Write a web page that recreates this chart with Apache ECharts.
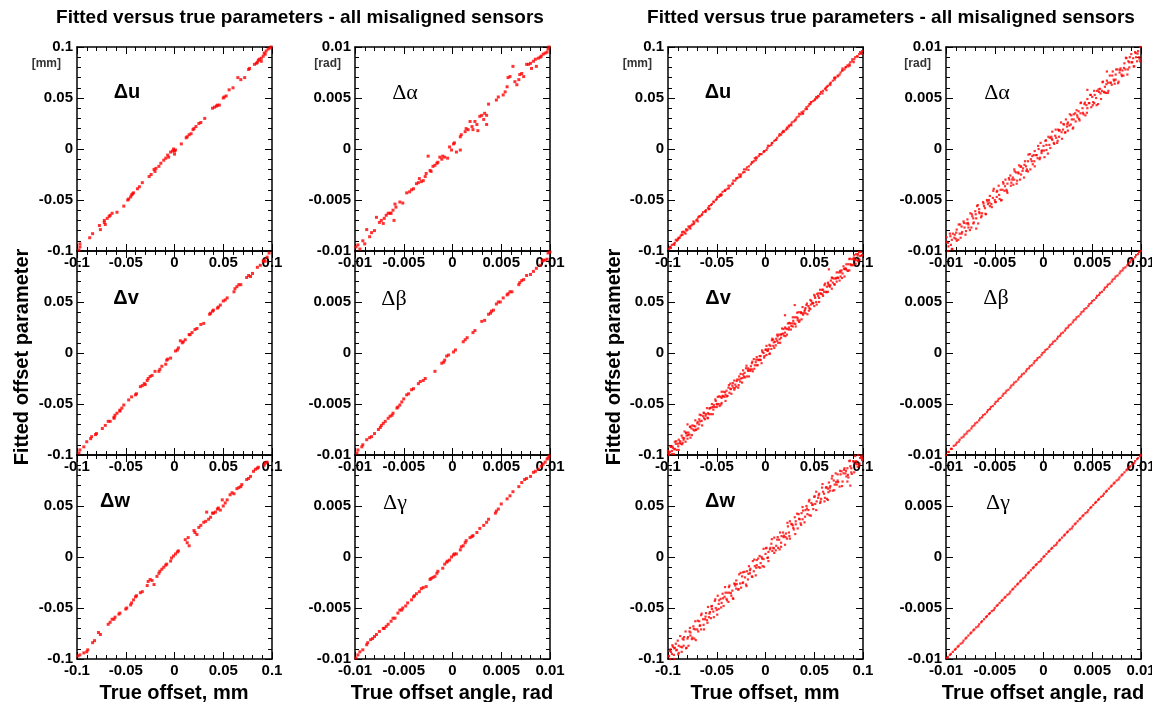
<!DOCTYPE html>
<html><head><meta charset="utf-8">
<script src="https://cdn.jsdelivr.net/npm/echarts@6/dist/echarts.min.js"></script>
<style>html,body{margin:0;padding:0;background:#fff}#c{width:1152px;height:702px}</style>
</head><body><div id="c"></div>
<script>
// ---------- data: [true offset, fitted offset] ----------
const duL=[[-.097,-.093],[-.097,-.096],[-.098,-.099],[-.087,-.087],[-.084,-.083],[-.077,-.075],[-.076,-.079],[-.072,-.070],[-.072,-.072],[-.071,-.074],[-.069,-.068],[-.067,-.066],[-.066,-.065],[-.064,-.063],[-.059,-.062],[-.052,-.056],[-.048,-.050],[-.047,-.049],[-.045,-.047],[-.044,-.045],[-.043,-.044],[-.042,-.043],[-.038,-.039],[-.036,-.037],[-.033,-.033],[-.026,-.027],[-.024,-.025],[-.021,-.020],[-.020,-.022],[-.019,-.019],[-.016,-.017],[-.014,-.014],[-.011,-.011],[-.009,-.009],[-.007,-.006],[-.006,-.008],[-.004,-.003],[-.002,-.002],[-.001,.000],[.000,-.005],[.000,-.002],[.001,-.001],[.007,.005],[.012,.011],[.013,.012],[.015,.014],[.017,.015],[.019,.019],[.020,.020],[.022,.022],[.025,.025],[.027,.026],[.031,.030],[.039,.040],[.041,.041],[.043,.042],[.044,.043],[.046,.043],[.050,.050],[.051,.051],[.053,.052],[.056,.058],[.060,.060],[.065,.070],[.068,.068],[.072,.070],[.076,.078],[.077,.079],[.082,.083],[.084,.084],[.086,.087],[.087,.088],[.089,.089],[.091,.091],[.092,.094],[.094,.096],[.096,.098],[.098,.099],[.099,.100],[.089,.086],[.093,.093],[.085,.085]];
const daL=[[-.0099,-.0096],[-.0097,-.0094],[-.0095,-.0098],[-.0092,-.0090],[-.0090,-.0093],[-.0088,-.0079],[-.0085,-.0086],[-.0083,-.0082],[-.0080,-.0080],[-.0078,-.0067],[-.0075,-.0072],[-.0073,-.0070],[-.0071,-.0073],[-.0070,-.0068],[-.0068,-.0065],[-.0066,-.0063],[-.0064,-.0063],[-.0063,-.0063],[-.0061,-.0060],[-.0060,-.0070],[-.0059,-.0054],[-.0058,-.0057],[-.0054,-.0052],[-.0051,-.0053],[-.0047,-.0043],[-.0044,-.0042],[-.0042,-.0040],[-.0040,-.0039],[-.0037,-.0034],[-.0035,-.0033],[-.0034,-.0029],[-.0032,-.0032],[-.0030,-.0031],[-.0028,-.0027],[-.0027,-.0024],[-.0025,-.0007],[-.0023,-.0021],[-.0022,-.0022],[-.0020,-.0017],[-.0018,-.0016],[-.0016,-.0014],[-.0015,-.0013],[-.0013,-.0008],[-.0011,-.0010],[-.0010,-.0007],[-.0008,-.0008],[-.0005,-.0009],[-.0003,.0002],[-.0001,-.0001],[.0001,.0005],[.0002,.0006],[.0004,-.0003],[.0008,.0012],[.0009,.0014],[.0008,-.0001],[.0013,.0017],[.0014,.0020],[.0016,.0019],[.0018,.0027],[.0020,.0022],[.0021,.0019],[.0023,.0027],[.0025,.0024],[.0026,.0018],[.0028,.0032],[.0030,.0033],[.0032,.0029],[.0033,.0035],[.0035,.0024],[.0035,.0033],[.0037,.0044],[.0045,.0048],[.0047,.0051],[.0052,.0053],[.0054,.0056],[.0056,.0061],[.0057,.0070],[.0059,.0071],[.0062,.0081],[.0064,.0066],[.0066,.0063],[.0068,.0068],[.0069,.0073],[.0071,.0074],[.0073,.0071],[.0076,.0083],[.0078,.0083],[.0080,.0084],[.0081,.0079],[.0083,.0086],[.0085,.0088],[.0086,.0081],[.0088,.0089],[.0090,.0090],[.0091,.0091],[.0093,.0093],[.0095,.0094],[.0097,.0095],[.0098,.0098],[.0099,.0100]];
const dvL=[[-.098,-.098],[-.097,-.095],[-.093,-.092],[-.090,-.087],[-.086,-.084],[-.085,-.082],[-.081,-.080],[-.080,-.079],[-.074,-.074],[-.071,-.071],[-.068,-.067],[-.066,-.067],[-.062,-.064],[-.061,-.061],[-.062,-.063],[-.059,-.059],[-.056,-.056],[-.056,-.057],[-.054,-.054],[-.052,-.051],[-.047,-.046],[-.044,-.043],[-.040,-.041],[-.039,-.040],[-.035,-.033],[-.033,-.032],[-.031,-.030],[-.030,-.031],[-.028,-.027],[-.027,-.025],[-.025,-.023],[-.023,-.022],[-.020,-.018],[-.016,-.018],[-.015,-.016],[-.013,-.013],[-.009,-.011],[-.008,-.007],[-.007,-.006],[-.004,-.005],[.001,.002],[.003,.003],[.004,.005],[.006,.012],[.008,.010],[.009,.011],[.011,.013],[.015,.018],[.016,.018],[.018,.020],[.021,.023],[.023,.024],[.027,.028],[.030,.029],[.036,.038],[.037,.039],[.039,.041],[.040,.042],[.044,.044],[.045,.045],[.047,.047],[.050,.051],[.052,.052],[.054,.054],[.061,.060],[.062,.063],[.064,.065],[.066,.067],[.068,.067],[.074,.074],[.076,.076],[.078,.075],[.080,.078],[.085,.084],[.088,.086],[.091,.090],[.092,.091],[.093,.090],[.095,.094],[.097,.098]];
const dbL=[[-.0098,-.0098],[-.0097,-.0095],[-.0093,-.0092],[-.0092,-.0090],[-.0088,-.0085],[-.0085,-.0083],[-.0083,-.0082],[-.0080,-.0079],[-.0076,-.0075],[-.0074,-.0073],[-.0073,-.0071],[-.0071,-.0069],[-.0069,-.0067],[-.0066,-.0064],[-.0064,-.0062],[-.0062,-.0061],[-.0061,-.0059],[-.0057,-.0054],[-.0056,-.0053],[-.0054,-.0051],[-.0052,-.0048],[-.0050,-.0045],[-.0047,-.0041],[-.0045,-.0040],[-.0042,-.0036],[-.0040,-.0035],[-.0035,-.0030],[-.0033,-.0028],[-.0030,-.0027],[-.0028,-.0025],[-.0018,-.0018],[-.0011,-.0010],[-.0009,-.0009],[-.0008,-.0007],[-.0006,-.0003],[-.0004,-.0002],[.0001,.0001],[.0003,.0003],[.0011,.0011],[.0013,.0013],[.0015,.0015],[.0021,.0020],[.0023,.0022],[.0030,.0031],[.0033,.0032],[.0037,.0038],[.0039,.0039],[.0040,.0041],[.0042,.0042],[.0045,.0048],[.0047,.0050],[.0049,.0050],[.0052,.0054],[.0056,.0057],[.0057,.0058],[.0059,.0060],[.0061,.0060],[.0068,.0067],[.0069,.0069],[.0071,.0071],[.0073,.0072],[.0076,.0076],[.0080,.0077],[.0083,.0080],[.0086,.0083],[.0090,.0086],[.0092,.0090],[.0093,.0091],[.0095,.0091],[.0097,.0092],[.0098,.0098],[.0100,.0099]];
const dwL=[[-.099,-.097],[-.097,-.096],[-.093,-.094],[-.090,-.093],[-.089,-.091],[-.084,-.084],[-.082,-.082],[-.078,-.074],[-.076,-.076],[-.068,-.066],[-.066,-.064],[-.064,-.061],[-.062,-.061],[-.061,-.059],[-.057,-.056],[-.056,-.055],[-.050,-.051],[-.049,-.050],[-.045,-.047],[-.044,-.045],[-.042,-.042],[-.040,-.039],[-.039,-.038],[-.035,-.035],[-.033,-.034],[-.028,-.028],[-.027,-.024],[-.025,-.022],[-.023,-.023],[-.021,-.027],[-.018,-.019],[-.016,-.016],[-.015,-.014],[-.013,-.012],[-.011,-.010],[-.009,-.008],[-.008,-.007],[-.004,-.004],[-.003,-.001],[-.001,.001],[.001,.003],[.003,.005],[.004,.006],[.011,.017],[.013,.014],[.014,.019],[.015,.011],[.020,.026],[.021,.024],[.023,.022],[.025,.029],[.027,.031],[.030,.034],[.032,.035],[.033,.044],[.035,.037],[.037,.039],[.039,.043],[.040,.043],[.042,.044],[.044,.047],[.045,.048],[.047,.046],[.049,.056],[.050,.050],[.052,.053],[.054,.056],[.057,.061],[.059,.063],[.061,.062],[.064,.067],[.066,.068],[.068,.069],[.069,.071],[.074,.076],[.076,.077],[.078,.079],[.081,.084],[.083,.086],[.085,.087],[.086,.088],[.092,.090],[.093,.092],[.095,.093]];
const dgL=[[-.0099,-.0099],[-.0097,-.0096],[-.0095,-.0093],[-.0092,-.0091],[-.0088,-.0086],[-.0087,-.0084],[-.0084,-.0081],[-.0082,-.0080],[-.0080,-.0078],[-.0078,-.0076],[-.0075,-.0073],[-.0071,-.0070],[-.0070,-.0070],[-.0068,-.0068],[-.0066,-.0066],[-.0063,-.0063],[-.0061,-.0060],[-.0059,-.0060],[-.0056,-.0055],[-.0054,-.0052],[-.0052,-.0052],[-.0051,-.0050],[-.0048,-.0048],[-.0046,-.0045],[-.0042,-.0042],[-.0040,-.0039],[-.0039,-.0038],[-.0037,-.0036],[-.0034,-.0034],[-.0032,-.0031],[-.0030,-.0030],[-.0027,-.0029],[-.0023,-.0022],[-.0022,-.0021],[-.0020,-.0020],[-.0018,-.0019],[-.0016,-.0016],[-.0015,-.0014],[-.0010,-.0011],[-.0008,-.0007],[-.0006,-.0005],[-.0005,-.0004],[-.0003,-.0003],[-.0001,.0000],[.0001,.0002],[.0002,.0003],[.0004,.0003],[.0008,.0007],[.0009,.0010],[.0011,.0011],[.0013,.0014],[.0014,.0016],[.0018,.0019],[.0020,.0020],[.0021,.0021],[.0025,.0024],[.0028,.0028],[.0032,.0031],[.0035,.0034],[.0037,.0037],[.0044,.0043],[.0045,.0045],[.0047,.0047],[.0050,.0052],[.0056,.0057],[.0059,.0060],[.0062,.0064],[.0068,.0069],[.0071,.0073],[.0074,.0076],[.0076,.0077],[.0080,.0079],[.0083,.0083],[.0085,.0084],[.0088,.0086],[.0091,.0089],[.0093,.0091],[.0095,.0093],[.0097,.0096],[.0098,.0097],[.0099,.0099]];
const duR=[[-.099,-.098],[-.098,-.096],[-.097,-.097],[-.096,-.094],[-.094,-.093],[-.093,-.092],[-.092,-.089],[-.090,-.089],[-.089,-.087],[-.088,-.087],[-.086,-.084],[-.085,-.084],[-.084,-.081],[-.083,-.082],[-.081,-.080],[-.080,-.079],[-.079,-.076],[-.078,-.077],[-.076,-.075],[-.075,-.074],[-.074,-.071],[-.073,-.072],[-.071,-.070],[-.070,-.069],[-.068,-.066],[-.067,-.066],[-.065,-.064],[-.064,-.062],[-.062,-.061],[-.061,-.060],[-.059,-.058],[-.058,-.056],[-.056,-.055],[-.055,-.054],[-.053,-.052],[-.051,-.050],[-.050,-.049],[-.048,-.047],[-.047,-.045],[-.045,-.045],[-.044,-.042],[-.042,-.041],[-.041,-.040],[-.039,-.039],[-.038,-.036],[-.036,-.036],[-.034,-.034],[-.033,-.031],[-.031,-.031],[-.030,-.029],[-.028,-.028],[-.027,-.025],[-.025,-.025],[-.023,-.023],[-.022,-.020],[-.020,-.020],[-.019,-.018],[-.017,-.017],[-.015,-.015],[-.014,-.013],[-.012,-.012],[-.011,-.009],[-.009,-.009],[-.007,-.007],[-.006,-.005],[-.004,-.005],[-.002,-.003],[-.001,-.002],[.001,-.001],[.002,.001],[.004,.003],[.006,.004],[.007,.006],[.009,.008],[.011,.009],[.012,.011],[.014,.013],[.016,.014],[.017,.016],[.019,.017],[.021,.019],[.022,.021],[.024,.023],[.026,.024],[.027,.026],[.029,.027],[.031,.029],[.032,.031],[.034,.032],[.036,.034],[.037,.036],[.039,.037],[.041,.039],[.042,.041],[.044,.042],[.046,.044],[.047,.046],[.049,.047],[.051,.049],[.052,.051],[.054,.052],[.056,.054],[.057,.056],[.059,.057],[.061,.059],[.062,.060],[.064,.062],[.066,.064],[.067,.065],[.069,.067],[.071,.068],[.072,.070],[.074,.072],[.076,.073],[.077,.075],[.079,.077],[.081,.078],[.082,.080],[.084,.082],[.086,.083],[.087,.085],[.089,.086],[.091,.088],[.092,.090],[.094,.091],[.096,.093],[.097,.095],[.099,.096],[.098,.094],[.089,.088],[.085,.081],[.079,.079],[.071,.070],[.063,.061],[.053,.050],[.045,.044],[.038,.035],[.024,.022],[.018,.017],[-.010,-.011],[-.026,-.027],[-.046,-.046],[-.058,-.059],[-.069,-.067],[-.077,-.078],[-.082,-.083],[-.087,-.085],[-.091,-.090]];
const duR2=[[-.0975,-.0961],[-.0935,-.0940],[-.0895,-.0878],[-.0855,-.0814],[-.0815,-.0788],[-.0775,-.0759],[-.0735,-.0735],[-.0695,-.0709],[-.0655,-.0648],[-.0615,-.0617],[-.0575,-.0585],[-.0535,-.0516],[-.0495,-.0470],[-.0455,-.0444],[-.0415,-.0410],[-.0375,-.0384],[-.0335,-.0338],[-.0295,-.0286],[-.0255,-.0270],[-.0215,-.0226],[-.0175,-.0205],[-.0135,-.0133],[-.0095,-.0082],[-.0055,-.0051],[-.0015,-.0022],[.0025,.0032],[.0065,.0058],[.0105,.0090],[.0145,.0146],[.0185,.0177],[.0225,.0200],[.0265,.0232],[.0305,.0281],[.0345,.0345],[.0385,.0346],[.0425,.0392],[.0465,.0459],[.0505,.0480],[.0545,.0516],[.0585,.0545],[.0625,.0576],[.0665,.0628],[.0705,.0696],[.0745,.0713],[.0785,.0769],[.0825,.0803],[.0865,.0819],[.0905,.0851],[.0945,.0905],[.0985,.0933]];
const daR=[[-.0099,-.0091],[-.0098,-.0100],[-.0098,-.0092],[-.0096,-.0083],[-.0095,-.0094],[-.0094,-.0089],[-.0094,-.0098],[-.0093,-.0083],[-.0091,-.0084],[-.0090,-.0088],[-.0089,-.0079],[-.0089,-.0090],[-.0087,-.0074],[-.0086,-.0083],[-.0085,-.0087],[-.0084,-.0076],[-.0084,-.0083],[-.0082,-.0071],[-.0081,-.0077],[-.0080,-.0084],
[-.0079,-.0073],[-.0078,-.0069],[-.0077,-.0077],[-.0077,-.0074],[-.0075,-.0063],[-.0074,-.0077],[-.0073,-.0066],[-.0072,-.0068],[-.0072,-.0073],[-.0070,-.0061],[-.0069,-.0068],[-.0068,-.0056],[-.0067,-.0073],[-.0066,-.0062],[-.0066,-.0059],[-.0064,-.0067],[-.0063,-.0063],[-.0062,-.0052],[-.0061,-.0056],[-.0060,-.0058],
[-.0059,-.0064],[-.0058,-.0050],[-.0057,-.0054],[-.0056,-.0050],[-.0055,-.0056],[-.0055,-.0046],[-.0053,-.0057],[-.0052,-.0048],[-.0051,-.0039],[-.0050,-.0050],[-.0049,-.0052],[-.0048,-.0042],[-.0048,-.0047],[-.0046,-.0036],[-.0045,-.0049],[-.0044,-.0040],[-.0043,-.0050],[-.0042,-.0040],[-.0041,-.0034],[-.0040,-.0041],
[-.0039,-.0030],[-.0038,-.0040],[-.0037,-.0034],[-.0037,-.0043],[-.0035,-.0030],[-.0034,-.0026],[-.0033,-.0033],[-.0032,-.0030],[-.0031,-.0035],[-.0030,-.0020],[-.0030,-.0030],[-.0028,-.0023],[-.0027,-.0031],[-.0026,-.0023],[-.0025,-.0016],[-.0024,-.0030],[-.0023,-.0025],[-.0023,-.0017],[-.0021,-.0019],[-.0020,-.0028],
[-.0019,-.0012],[-.0018,-.0017],[-.0017,-.0020],[-.0016,-.0012],[-.0016,-.0022],[-.0014,-.0005],[-.0013,-.0010],[-.0012,-.0012],[-.0011,-.0015],[-.0010,-.0006],[-.0009,-.0017],[-.0009,-.0002],[-.0007,-.0006],[-.0006,-.0009],[-.0005,.0000],[-.0004,-.0010],[-.0003,.0006],[-.0002,-.0002],[-.0002,-.0004],[.0000,.0003],
[.0001,-.0008],[.0002,.0008],[.0003,-.0001],[.0003,.0004],[.0005,.0012],[.0006,.0004],[.0007,.0001],[.0008,.0012],[.0009,.0009],[.0009,.0017],[.0011,.0005],[.0012,.0013],[.0013,.0011],[.0014,.0006],[.0015,.0019],[.0016,.0018],[.0016,.0012],[.0018,.0026],[.0019,.0010],[.0020,.0019],
[.0021,.0024],[.0022,.0016],[.0023,.0029],[.0024,.0022],[.0025,.0026],[.0025,.0018],[.0027,.0034],[.0028,.0024],[.0029,.0029],[.0030,.0020],[.0031,.0034],[.0031,.0029],[.0033,.0027],[.0034,.0038],[.0035,.0031],[.0036,.0037],[.0037,.0028],[.0038,.0045],[.0038,.0035],[.0040,.0040],
[.0041,.0034],[.0042,.0044],[.0043,.0033],[.0044,.0043],[.0045,.0049],[.0045,.0040],[.0047,.0045],[.0048,.0053],[.0049,.0041],[.0050,.0051],[.0051,.0046],[.0052,.0057],[.0052,.0045],[.0054,.0050],[.0055,.0057],[.0056,.0044],[.0057,.0056],[.0058,.0059],[.0059,.0049],[.0060,.0057],
[.0061,.0066],[.0062,.0056],[.0063,.0061],[.0064,.0055],[.0065,.0067],[.0066,.0065],[.0066,.0055],[.0068,.0072],[.0069,.0065],[.0070,.0063],[.0071,.0076],[.0072,.0068],[.0073,.0064],[.0074,.0073],[.0074,.0068],[.0076,.0078],[.0077,.0066],[.0078,.0075],[.0079,.0079],[.0080,.0073],
[.0081,.0077],[.0082,.0072],[.0083,.0084],[.0084,.0078],[.0085,.0089],[.0086,.0073],[.0087,.0086],[.0088,.0085],[.0088,.0080],[.0090,.0093],[.0091,.0085],[.0092,.0089],[.0093,.0081],[.0094,.0095],[.0095,.0090],[.0096,.0086],[.0097,.0096],[.0098,.0090],[.0099,.0100],[.0099,.0086],
[.0045,.0058],[.0065,.0076],[-.0069,-.0078]];
const daR2=[[-.00995,-.00865],[-.00975,-.00955],[-.00955,-.00855],[-.00935,-.0098],[-.00915,-.0087],[-.00895,-.0082],[-.00875,-.0089],[-.00855,-.0074],[-.00835,-.00815],[-.00815,-.00725],[-.00795,-.00805],[-.00775,-.00725],[-.00755,-.00795],[-.00735,-.0064],[-.00715,-.0072],[-.00695,-.0064],[-.00675,-.0055],[-.00655,-.0063],[-.00635,-.00655],[-.00615,-.00535],[-.00595,-.00635],[-.00575,-.00515],[-.00555,-.00525],[-.00535,-.0054],[-.00515,-.0041],[-.00495,-.0052],[-.00475,-.0041],[-.00455,-.0045],[-.00435,-.00505],[-.00415,-.00325],[-.00395,-.00365],[-.00375,-.00415],[-.00355,-.00285],[-.00335,-.0036],[-.00315,-.0028],[-.00295,-.0022],[-.00275,-.0034],[-.00255,-.0024],[-.00235,-.00175],[-.00215,-.00215],[-.00195,-.00155],[-.00175,-.00215],[-.00155,-.00055],[-.00135,-.0020],[-.00115,-.0007],[-.00095,-.0012],[-.00075,-.0006],[-.00055,.0003],[-.00035,-.00085],[-.00015,-.00015],[.00005,-.00015],[.00025,.00085],[.00045,-.00045],[.00065,.0011],[.00085,.0010],[.00105,.0006],[.00125,.0019],[.00145,.0008],[.00165,.00185],[.00185,.00165],[.00205,.00245],[.00225,.00165],[.00245,.00245],[.00265,.0023],[.00285,.0033],[.00305,.0021],[.00325,.0035],[.00345,.0033],[.00365,.00295],[.00385,.00455],[.00405,.00355],[.00425,.00455],[.00445,.00355],[.00465,.0045],[.00485,.0053],[.00505,.0043],[.00525,.0053],[.00545,.0043],[.00565,.00585],[.00585,.00545],[.00605,.00655],[.00625,.00555],[.00645,.00635],[.00665,.0057],[.00685,.0065],[.00705,.0072],[.00725,.0067],[.00745,.0078],[.00765,.00645],[.00785,.00775],[.00805,.00715],[.00825,.00795],[.00845,.00895],[.00865,.0078],[.00885,.0090],[.00905,.0085],[.00925,.0081],[.00945,.0094],[.00965,.00935],[.00985,.00885]];
const dvR=[[-.100,-.096],[-.099,-.100],[-.099,-.099],[-.098,-.097],[-.097,-.092],[-.096,-.099],[-.096,-.096],[-.095,-.093],[-.094,-.099],[-.093,-.087],[-.093,-.094],[-.092,-.089],[-.091,-.095],[-.090,-.089],[-.089,-.095],[-.089,-.085],[-.088,-.088],[-.087,-.089],[-.086,-.081],[-.085,-.088],[-.085,-.083],[-.084,-.085],[-.083,-.077],[-.082,-.087],[-.081,-.081],[-.081,-.078],[-.080,-.084],[-.079,-.078],[-.078,-.080],[-.077,-.072],[-.077,-.083],[-.076,-.074],[-.075,-.071],[-.074,-.075],[-.073,-.076],[-.072,-.072],[-.072,-.066],[-.071,-.075],[-.070,-.069],[-.069,-.074],[-.068,-.065],[-.068,-.070],[-.067,-.067],[-.066,-.061],[-.065,-.071],[-.064,-.062],[-.063,-.064],[-.063,-.059],[-.062,-.065],[-.061,-.060],[-.060,-.054],[-.059,-.064],[-.059,-.059],[-.058,-.060],[-.057,-.054],[-.056,-.060],[-.055,-.050],[-.054,-.053],[-.054,-.060],[-.053,-.051],[-.052,-.053],[-.051,-.047],[-.050,-.053],[-.050,-.050],[-.049,-.043],[-.048,-.050],[-.047,-.052],[-.046,-.043],[-.045,-.044],[-.045,-.049],[-.044,-.042],[-.043,-.038],[-.042,-.043],[-.041,-.047],[-.041,-.041],[-.040,-.037],[-.039,-.042],[-.038,-.034],[-.037,-.039],[-.036,-.035],[-.036,-.030],[-.035,-.040],[-.034,-.032],[-.033,-.034],[-.032,-.036],[-.032,-.027],[-.031,-.031],[-.030,-.033],[-.029,-.026],[-.028,-.034],[-.027,-.026],[-.027,-.023],[-.026,-.028],[-.025,-.025],[-.024,-.029],[-.023,-.017],[-.023,-.021],[-.022,-.023],[-.021,-.024],[-.020,-.015],[-.019,-.023],[-.018,-.017],[-.018,-.015],[-.017,-.023],[-.016,-.016],[-.015,-.013],[-.014,-.016],[-.014,-.010],[-.013,-.018],[-.012,-.006],[-.011,-.012],[-.010,-.009],[-.009,-.012],[-.009,-.004],[-.008,-.012],[-.007,-.007],[-.006,-.003],[-.005,-.007],[-.005,-.003],[-.004,-.010],[-.003,.001],[-.002,.000],[-.001,-.003],[-.080,-.070],[-.045,-.038],
[.000,.003],[.001,-.002],[.001,.007],[.002,.002],[.003,.004],[.004,-.001],[.004,.008],[.005,.007],[.006,.004],[.007,.014],[.008,.007],[.008,.013],[.009,.005],[.010,.011],[.011,.014],[.012,.012],[.012,.018],[.013,.010],[.014,.018],[.015,.010],[.016,.018],[.016,.015],[.017,.024],[.018,.019],[.019,.017],[.020,.025],[.020,.020],[.021,.024],[.022,.018],[.023,.029],[.024,.023],[.024,.025],[.025,.029],[.026,.023],[.027,.029],[.028,.035],[.028,.026],[.029,.029],[.030,.035],[.031,.026],[.032,.035],[.033,.034],[.033,.032],[.034,.040],[.035,.032],[.036,.040],[.037,.039],[.037,.033],[.038,.045],[.039,.039],[.040,.041],[.041,.039],[.041,.044],[.042,.047],[.043,.038],[.044,.046],[.045,.044],[.046,.052],[.046,.043],[.047,.051],[.048,.049],[.049,.049],[.050,.057],[.050,.046],[.051,.054],[.052,.050],[.053,.058],[.054,.056],[.055,.054],[.055,.050],[.056,.062],[.057,.058],[.058,.062],[.059,.056],[.059,.062],[.060,.060],[.061,.068],[.062,.060],[.063,.065],[.064,.060],[.064,.069],[.065,.066],[.066,.065],[.067,.071],[.068,.063],[.068,.074],[.069,.069],[.070,.073],[.071,.067],[.072,.073],[.073,.079],[.073,.070],[.074,.074],[.075,.079],[.076,.071],[.077,.079],[.077,.075],[.078,.081],[.079,.078],[.080,.085],[.081,.075],[.082,.083],[.082,.082],[.083,.087],[.084,.081],[.085,.087],[.086,.081],[.086,.092],[.087,.087],[.088,.086],[.089,.092],[.090,.086],[.091,.092],[.091,.096],[.092,.091],[.093,.097],[.094,.091],[.095,.097],[.095,.090],[.096,.099],[.097,.095],[.098,.099],[.099,.096],[.020,.037],[.030,.047],[.065,.082]];
const dvR2=[[-.0995,-.0975],[-.0975,-.0915],[-.0955,-.0915],[-.0935,-.0945],[-.0915,-.0865],[-.0895,-.0915],[-.0875,-.0865],[-.0855,-.0895],[-.0835,-.0835],[-.0815,-.0785],[-.0795,-.0805],[-.0775,-.0725],[-.0755,-.0805],[-.0735,-.0715],[-.0715,-.0755],[-.0695,-.0675],[-.0675,-.0605],[-.0655,-.0665],[-.0635,-.0585],[-.0615,-.0615],[-.0595,-.0635],[-.0575,-.0545],[-.0555,-.0535],[-.0535,-.0555],[-.0515,-.0455],[-.0495,-.0505],[-.0475,-.0425],[-.0455,-.0505],[-.0435,-.0425],[-.0415,-.0385],[-.0395,-.0425],[-.0375,-.0315],[-.0355,-.0355],[-.0335,-.0295],[-.0315,-.0345],[-.0295,-.0275],[-.0275,-.0315],[-.0255,-.0205],[-.0235,-.0245],[-.0215,-.0195],[-.0195,-.0125],[-.0175,-.0175],[-.0155,-.0175],[-.0135,-.0085],[-.0115,-.0155],[-.0095,-.0065],[-.0075,-.0065],[-.0055,-.0065],[-.0035,.0025],[-.0015,-.0045],[.0005,.0035],[.0025,.0025],[.0045,-.0005],[.0065,.0125],[.0085,.0105],[.0105,.0075],[.0125,.0165],[.0145,.0135],[.0165,.0185],[.0185,.0235],[.0205,.0165],[.0225,.0235],[.0245,.0295],[.0265,.0265],[.0285,.0315],[.0305,.0285],[.0325,.0395],[.0345,.0305],[.0365,.0395],[.0385,.0375],[.0405,.0425],[.0425,.0485],[.0445,.0415],[.0465,.0475],[.0485,.0485],[.0505,.0555],[.0525,.0475],[.0545,.0585],[.0565,.0585],[.0585,.0575],[.0605,.0665],[.0625,.0595],[.0645,.0675],[.0665,.0665],[.0685,.0735],[.0705,.0675],[.0725,.0735],[.0745,.0735],[.0765,.0805],[.0785,.0735],[.0805,.0825],[.0825,.0825],[.0845,.0805],[.0865,.0925],[.0885,.0865],[.0905,.0935],[.0925,.0875],[.0945,.0955],[.0965,.0915],[.0985,.0955]];
const dbR=[[-.0100,-.0100],[-.0098,-.0097],[-.0097,-.0097],[-.0095,-.0094],[-.0094,-.0094],[-.0092,-.0091],[-.0090,-.0090],[-.0089,-.0088],[-.0087,-.0087],[-.0086,-.0085],[-.0084,-.0083],[-.0082,-.0082],[-.0081,-.0080],[-.0079,-.0079],[-.0078,-.0077],[-.0076,-.0076],[-.0074,-.0074],[-.0073,-.0072],[-.0071,-.0071],[-.0070,-.0069],[-.0068,-.0068],[-.0066,-.0066],[-.0065,-.0064],[-.0063,-.0063],[-.0062,-.0061],[-.0060,-.0060],[-.0058,-.0058],[-.0057,-.0056],[-.0055,-.0055],[-.0054,-.0053],[-.0052,-.0052],[-.0050,-.0050],[-.0049,-.0048],[-.0047,-.0047],[-.0046,-.0045],[-.0044,-.0044],[-.0042,-.0042],[-.0041,-.0040],[-.0039,-.0039],[-.0038,-.0037],[-.0036,-.0036],[-.0034,-.0034],[-.0033,-.0032],[-.0031,-.0031],[-.0030,-.0029],[-.0028,-.0028],[-.0026,-.0026],[-.0025,-.0024],[-.0023,-.0023],[-.0022,-.0021],[-.0020,-.0020],[-.0018,-.0018],[-.0017,-.0016],[-.0015,-.0015],[-.0014,-.0013],[-.0012,-.0012],[-.0010,-.0010],[-.0009,-.0008],[-.0007,-.0007],[-.0006,-.0005],[-.0004,-.0004],[-.0002,-.0002],[-.0001,.0000],[.0001,.0001],[.0002,.0003],[.0004,.0004],[.0006,.0006],[.0007,.0008],[.0009,.0009],[.0010,.0011],[.0012,.0012],[.0014,.0014],[.0015,.0016],[.0017,.0017],[.0018,.0019],[.0020,.0020],[.0022,.0022],[.0023,.0024],[.0025,.0025],[.0026,.0027],[.0028,.0028],[.0030,.0030],[.0031,.0032],[.0033,.0033],[.0034,.0035],[.0036,.0036],[.0038,.0038],[.0039,.0040],[.0041,.0041],[.0042,.0043],[.0044,.0044],[.0046,.0046],[.0047,.0048],[.0049,.0049],[.0050,.0051],[.0052,.0052],[.0054,.0054],[.0055,.0056],[.0057,.0057],[.0058,.0059],[.0060,.0060],[.0062,.0062],[.0063,.0064],[.0065,.0065],[.0066,.0067],[.0068,.0068],[.0070,.0070],[.0071,.0072],[.0073,.0073],[.0074,.0075],[.0076,.0076],[.0078,.0078],[.0079,.0080],[.0081,.0081],[.0082,.0083],[.0084,.0084],[.0086,.0086],[.0087,.0088],[.0089,.0089],[.0090,.0091],[.0092,.0092],[.0094,.0094],[.0095,.0096],[.0097,.0097],[.0098,.0099],[.0100,.0100]];
const dwR=[[-.099,-.097],[-.098,-.092],[-.098,-.100],[-.096,-.095],[-.095,-.088],[-.094,-.096],[-.094,-.100],[-.093,-.089],[-.091,-.091],[-.090,-.082],[-.089,-.094],[-.089,-.087],[-.087,-.088],[-.086,-.093],[-.085,-.080],[-.084,-.081],[-.084,-.087],[-.082,-.073],[-.081,-.089],[-.080,-.080],
[-.079,-.087],[-.078,-.073],[-.077,-.077],[-.077,-.074],[-.075,-.079],[-.074,-.068],[-.073,-.080],[-.072,-.071],[-.072,-.063],[-.070,-.071],[-.069,-.073],[-.068,-.063],[-.067,-.067],[-.066,-.057],[-.066,-.071],[-.064,-.061],[-.063,-.071],[-.062,-.061],[-.061,-.055],[-.060,-.062],
[-.059,-.049],[-.058,-.059],[-.057,-.054],[-.056,-.060],[-.055,-.048],[-.055,-.051],[-.053,-.059],[-.052,-.043],[-.051,-.050],[-.050,-.052],[-.049,-.038],[-.048,-.046],[-.048,-.051],[-.046,-.041],[-.045,-.045],[-.044,-.036],[-.043,-.048],[-.042,-.039],[-.041,-.035],[-.040,-.041],
[-.039,-.035],[-.038,-.044],[-.037,-.035],[-.037,-.028],[-.035,-.038],[-.034,-.033],[-.033,-.041],[-.032,-.026],[-.031,-.028],[-.030,-.031],[-.030,-.023],[-.028,-.032],[-.027,-.017],[-.026,-.026],[-.025,-.030],[-.024,-.019],[-.023,-.025],[-.023,-.015],[-.021,-.020],[-.020,-.027],
[-.019,-.014],[-.018,-.022],[-.017,-.009],[-.016,-.016],[-.016,-.013],[-.014,-.019],[-.013,-.004],[-.012,-.014],[-.011,-.009],[-.010,-.018],[-.009,-.003],[-.009,-.008],[-.007,-.010],[-.006,.001],[-.005,-.006],[-.004,.000],[-.003,-.009],[-.002,.008],[-.002,-.002],[.000,.003],
[.001,.009],[.002,-.001],[.003,.005],[.003,-.004],[.005,.009],[.006,.013],[.007,.006],[.008,.009],[.009,.004],[.009,.019],[.011,.011],[.012,.017],[.013,.009],[.014,.017],[.015,.024],[.016,.010],[.016,.014],[.018,.024],[.019,.021],[.020,.012],
[.021,.023],[.022,.018],[.023,.030],[.024,.024],[.025,.035],[.025,.018],[.027,.032],[.028,.031],[.029,.027],[.030,.039],[.031,.032],[.031,.035],[.033,.028],[.034,.042],[.035,.037],[.036,.033],[.037,.043],[.038,.037],[.038,.049],[.040,.034],
[.041,.046],[.042,.050],[.043,.042],[.044,.046],[.045,.056],[.045,.041],[.047,.053],[.048,.051],[.049,.047],[.050,.059],[.051,.052],[.052,.064],[.052,.046],[.054,.058],[.055,.062],[.056,.053],[.057,.057],[.058,.068],[.059,.064],[.060,.062],
[.061,.058],[.062,.068],[.063,.057],[.064,.067],[.065,.073],[.066,.065],[.066,.068],[.068,.077],[.069,.065],[.070,.075],[.071,.071],[.072,.082],[.073,.071],[.074,.075],[.074,.081],[.076,.069],[.077,.081],[.078,.084],[.079,.074],[.080,.082],
[.081,.087],[.082,.082],[.083,.079],[.084,.087],[.085,.078],[.086,.094],[.087,.089],[.088,.087],[.088,.083],[.090,.094],[.091,.083],[.092,.099],[.093,.094],[.094,.091],[.095,.100],[.096,.090],[.097,.097],[.098,.098],[.099,.097],[.099,.095],
[.087,.070],[.084,.074],[.064,.056],[-.097,-.093],[-.092,-.085]];
const dwR2=[[-.0995,-.0975],[-.0975,-.0905],[-.0955,-.0865],[-.0935,-.0895],[-.0915,-.0915],[-.0895,-.0955],[-.0875,-.0775],[-.0855,-.0885],[-.0835,-.0785],[-.0815,-.0895],[-.0795,-.0785],[-.0775,-.0695],[-.0755,-.0805],[-.0735,-.0705],[-.0715,-.0815],[-.0695,-.0625],[-.0675,-.0675],[-.0655,-.0555],[-.0635,-.0665],[-.0615,-.0585],[-.0595,-.0645],[-.0575,-.0555],[-.0555,-.0485],[-.0535,-.0535],[-.0515,-.0415],[-.0495,-.0565],[-.0475,-.0425],[-.0455,-.0495],[-.0435,-.0405],[-.0415,-.0295],[-.0395,-.0425],[-.0375,-.0295],[-.0355,-.0355],[-.0335,-.0405],[-.0315,-.0265],[-.0295,-.0265],[-.0275,-.0315],[-.0255,-.0155],[-.0235,-.0255],[-.0215,-.0145],[-.0195,-.0285],[-.0175,-.0165],[-.0155,-.0115],[-.0135,-.0195],[-.0115,-.0025],[-.0095,-.0105],[-.0075,-.0015],[-.0055,-.0105],[-.0035,-.0015],[-.0015,-.0095],[.0005,.0085],[.0025,-.0005],[.0045,.0075],[.0065,.0175],[.0085,.0085],[.0105,.0065],[.0125,.0195],[.0145,.0075],[.0165,.0205],[.0185,.0195],[.0205,.0195],[.0225,.0335],[.0245,.0205],[.0265,.0325],[.0285,.0285],[.0305,.0225],[.0325,.0425],[.0345,.0375],[.0365,.0315],[.0385,.0455],[.0405,.0395],[.0425,.0475],[.0445,.0545],[.0465,.0405],[.0485,.0515],[.0505,.0595],[.0525,.0545],[.0545,.0605],[.0565,.0545],[.0585,.0715],[.0605,.0545],[.0625,.0685],[.0645,.0635],[.0665,.0695],[.0685,.0795],[.0705,.0655],[.0725,.0735],[.0745,.0735],[.0765,.0845],[.0785,.0695],[.0805,.0855],[.0825,.0845],[.0845,.0805],[.0865,.0945],[.0885,.0815],[.0905,.0935],[.0925,.0915],[.0945,.0885],[.0965,.0915],[.0985,.0995]];
const dgR=[[-.0099,-.0099],[-.0098,-.0098],[-.0096,-.0096],[-.0095,-.0095],[-.0093,-.0093],[-.0091,-.0091],[-.0090,-.0090],[-.0088,-.0088],[-.0087,-.0087],[-.0085,-.0085],[-.0083,-.0084],[-.0082,-.0082],[-.0080,-.0080],[-.0079,-.0079],[-.0077,-.0077],[-.0075,-.0075],[-.0074,-.0074],[-.0072,-.0072],[-.0071,-.0071],[-.0069,-.0069],[-.0067,-.0068],[-.0066,-.0066],[-.0064,-.0064],[-.0063,-.0063],[-.0061,-.0061],[-.0059,-.0059],[-.0058,-.0058],[-.0056,-.0056],[-.0055,-.0055],[-.0053,-.0053],[-.0051,-.0052],[-.0050,-.0050],[-.0048,-.0048],[-.0047,-.0047],[-.0045,-.0045],[-.0043,-.0043],[-.0042,-.0042],[-.0040,-.0040],[-.0039,-.0039],[-.0037,-.0037],[-.0035,-.0036],[-.0034,-.0034],[-.0032,-.0032],[-.0031,-.0031],[-.0029,-.0029],[-.0027,-.0027],[-.0026,-.0026],[-.0024,-.0024],[-.0023,-.0023],[-.0021,-.0021],[-.0019,-.0020],[-.0018,-.0018],[-.0016,-.0016],[-.0015,-.0015],[-.0013,-.0013],[-.0011,-.0011],[-.0010,-.0010],[-.0008,-.0008],[-.0007,-.0007],[-.0005,-.0005],[-.0003,-.0004],[-.0002,-.0002],[.0000,.0000],[.0001,.0001],[.0003,.0003],[.0005,.0005],[.0006,.0006],[.0008,.0008],[.0009,.0009],[.0011,.0011],[.0013,.0012],[.0014,.0014],[.0016,.0016],[.0017,.0017],[.0019,.0019],[.0021,.0021],[.0022,.0022],[.0024,.0024],[.0025,.0025],[.0027,.0027],[.0029,.0028],[.0030,.0030],[.0032,.0032],[.0033,.0033],[.0035,.0035],[.0037,.0037],[.0038,.0038],[.0040,.0040],[.0041,.0041],[.0043,.0043],[.0045,.0044],[.0046,.0046],[.0048,.0048],[.0049,.0049],[.0051,.0051],[.0053,.0053],[.0054,.0054],[.0056,.0056],[.0057,.0057],[.0059,.0059],[.0061,.0060],[.0062,.0062],[.0064,.0064],[.0065,.0065],[.0067,.0067],[.0069,.0069],[.0070,.0070],[.0072,.0072],[.0073,.0073],[.0075,.0075],[.0077,.0076],[.0078,.0078],[.0080,.0080],[.0081,.0081],[.0083,.0083],[.0085,.0085],[.0086,.0086],[.0088,.0088],[.0089,.0089],[.0091,.0091],[.0093,.0092],[.0094,.0094],[.0096,.0096],[.0097,.0097],[.0099,.0099],[.0100,.0100]];

const titleText='Fitted versus true parameters - all misaligned sensors';
const yTitle='Fitted offset parameter';
const xTitleMM='True offset, mm';
const xTitleRad='True offset angle, rad';

// ---------- layout ----------
const GX=[77,355,668,946], GY=[47,251,455], GW=195, GH=204;
const panels=[
  {d:duL,c:0,r:0,k:'mm',lab:'Δu',lx:127,ly:92,s:3},
  {d:daL,c:1,r:0,k:'rad',lab:'Δα',lx:405,ly:93,s:3},
  {d:dvL,c:0,r:1,k:'mm',lab:'Δv',lx:126,ly:298,s:3},
  {d:dbL,c:1,r:1,k:'rad',lab:'Δβ',lx:394,ly:299,s:3},
  {d:dwL,c:0,r:2,k:'mm',lab:'Δw',lx:115,ly:501,s:3},
  {d:dgL,c:1,r:2,k:'rad',lab:'Δγ',lx:395,ly:503,s:3},
  {d:duR.concat(duR2),c:2,r:0,k:'mm',lab:'Δu',lx:718,ly:92,s:2.2},
  {d:daR.concat(daR2),c:3,r:0,k:'rad',lab:'Δα',lx:997,ly:93,s:2.2},
  {d:dvR.concat(dvR2),c:2,r:1,k:'mm',lab:'Δv',lx:718,ly:298,s:2.2},
  {d:dbR,c:3,r:1,k:'rad',lab:'Δβ',lx:996,ly:298,s:2.2},
  {d:dwR.concat(dwR2),c:2,r:2,k:'mm',lab:'Δw',lx:720,ly:501,s:2.2},
  {d:dgR,c:3,r:2,k:'rad',lab:'Δγ',lx:998,ly:503,s:2.2}
];

const FONT='"Liberation Sans", Arial, Helvetica, sans-serif';
const lblFmt=v=>String(+(+v).toFixed(5));
function baseAxis(k,gi,pos,showLabel,hideMax){
  const mm=k==='mm';
  return {
    type:'value', gridIndex:gi, position:pos,
    min:mm?-0.1:-0.01, max:mm?0.1:0.01, interval:mm?0.05:0.005,
    splitLine:{show:false}, minorSplitLine:{show:false},
    axisLine:{show:true,onZero:false,lineStyle:{color:'#000',width:1.5}},
    axisTick:{show:true,inside:true,length:7,lineStyle:{color:'#000',width:1}},
    minorTick:{show:true,splitNumber:5,length:4,lineStyle:{color:'#000',width:1}},
    axisLabel:{show:showLabel,formatter:lblFmt,color:'#000',fontFamily:FONT,fontWeight:'bold',fontSize:15,margin:4,
      showMaxLabel:hideMax?false:true, showMinLabel:true},
    silent:true, animation:false
  };
}

const grid=[], xAxis=[], yAxis=[], series=[], graphic=[];
panels.forEach((p,i)=>{
  grid.push({left:GX[p.c],top:GY[p.r],width:GW,height:GH,containLabel:false,outerBoundsMode:'none',show:false});
  const xi=xAxis.length, yi=yAxis.length;
  xAxis.push(baseAxis(p.k,i,'bottom',true,false));
  xAxis.push(baseAxis(p.k,i,'top',false,false));
  yAxis.push(baseAxis(p.k,i,'left',true,p.r>0));
  yAxis.push(baseAxis(p.k,i,'right',false,false));
  series.push({type:'scatter',xAxisIndex:xi,yAxisIndex:yi,data:p.d,symbol:'rect',symbolSize:p.s,
    itemStyle:{color:'#ff0000'},silent:true,animation:false,z:3});
  const greek=p.k==='rad';
  graphic.push({type:'text',x:p.lx,y:p.ly,z:10,style:{text:p.lab,
    font:greek?'22px "Liberation Serif", "DejaVu Serif", serif':'bold 20px '+FONT,
    fill:'#000',align:'center',verticalAlign:'middle',textAlign:'center',textVerticalAlign:'middle'}});
});

[[61,'[mm]'],[341,'[rad]'],[652,'[mm]'],[931,'[rad]']].forEach(([x,t])=>{
  graphic.push({type:'text',x:x,y:64,z:10,style:{text:t,font:'bold 12px '+FONT,fill:'#333',
    align:'right',verticalAlign:'middle',textAlign:'right',textVerticalAlign:'middle'}});
});
[300,891].forEach(x=>graphic.push({type:'text',x:x,y:18,z:10,style:{text:titleText,font:'bold 19px '+FONT,fill:'#000',
  align:'center',verticalAlign:'middle',textAlign:'center',textVerticalAlign:'middle'}}));
[22,614].forEach(x=>graphic.push({type:'text',x:x,y:357,rotation:Math.PI/2,z:10,style:{text:yTitle,font:'bold 20px '+FONT,fill:'#000',
  align:'center',verticalAlign:'middle',textAlign:'center',textVerticalAlign:'middle'}}));
[[174,xTitleMM],[452,xTitleRad],[765,xTitleMM],[1043,xTitleRad]].forEach(([x,t])=>graphic.push({type:'text',x:x,y:693,z:10,
  style:{text:t,font:'bold 20px '+FONT,fill:'#000',align:'center',verticalAlign:'middle',textAlign:'center',textVerticalAlign:'middle'}}));

const chart=echarts.init(document.getElementById('c'),null,{renderer:'canvas'});
chart.setOption({backgroundColor:'#fff',animation:false,grid,xAxis,yAxis,series,graphic});
</script>
</body></html>
